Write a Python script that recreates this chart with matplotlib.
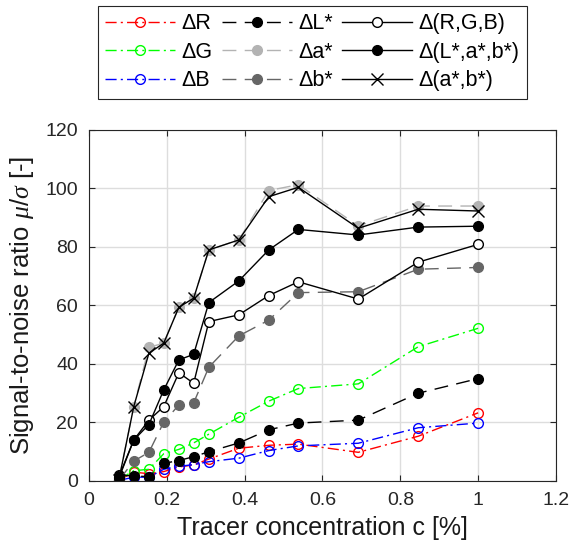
import matplotlib
matplotlib.use("Agg")
import matplotlib.pyplot as plt

plt.rcParams['font.family'] = ['Liberation Sans', 'DejaVu Sans']
plt.rcParams['mathtext.fontset'] = 'custom'
plt.rcParams['mathtext.it'] = 'Liberation Serif:italic'
plt.rcParams['mathtext.rm'] = 'Liberation Sans'

# tracer concentration [%]
conc = [0.077, 0.115, 0.154, 0.192, 0.231, 0.269, 0.308, 0.385, 0.462, 0.538, 0.692, 0.846, 1.0]

# signal-to-noise ratio for each colour channel / difference
snr_R = [0.3, 3.0, 2.5, 3.2, 4.8, 5.5, 7.5, 11.2, 12.2, 12.6, 9.8, 15.3, 23.3]
snr_G = [0.5, 3.5, 4.0, 9.3, 10.8, 13.0, 16.0, 21.8, 27.3, 31.6, 33.2, 45.9, 52.2]
snr_B = [0.2, 1.3, 1.3, 4.0, 5.0, 5.6, 6.6, 7.8, 10.4, 12.0, 12.9, 18.2, 19.8]
snr_L = [2.0, 1.7, 1.5, 6.0, 7.0, 8.3, 10.0, 13.0, 17.5, 19.8, 20.8, 30.0, 35.0]
snr_a = [0.5, 25.4, 45.7, 47.1, 59.4, 62.5, 79.0, 82.4, 99.3, 101.3, 87.2, 94.0, 94.0]
snr_b = [0.3, 6.8, 9.8, 20.1, 26.0, 26.7, 38.9, 49.6, 55.0, 64.4, 64.7, 72.4, 73.0]
snr_RGB = [1.0, 14.0, 20.8, 25.4, 37.0, 33.4, 54.5, 56.8, 63.4, 68.1, 62.2, 74.8, 80.9]
snr_Lab = [1.5, 14.0, 19.3, 31.1, 41.4, 43.3, 61.0, 68.4, 79.0, 86.0, 84.1, 86.8, 87.1]
snr_ab = [0.5, 25.4, 43.7, 47.1, 59.4, 62.5, 79.0, 82.4, 97.2, 100.4, 86.4, 92.9, 92.3]

xticks = [0, 0.2, 0.4, 0.6, 0.8, 1.0, 1.2]
xticklabels = ['0', '0.2', '0.4', '0.6', '0.8', '1', '1.2']
yticks = [0, 20, 40, 60, 80, 100, 120]

dashdot = (8, 3, 1.5, 3)
dashed = (10, 6)
ms = 7

fig = plt.figure(figsize=(5.73, 5.48), dpi=100)
ax = fig.add_axes([0.1553, 0.1223, 0.815, 0.6405])

ax.plot(conc, snr_R, color='r', dashes=dashdot, lw=1, marker='o', ms=ms, mfc='none', mew=1, label=u'\u0394R')
ax.plot(conc, snr_G, color=(0, 1, 0), dashes=dashdot, lw=1, marker='o', ms=ms, mfc='none', mew=1, label=u'\u0394G')
ax.plot(conc, snr_B, color='b', dashes=dashdot, lw=1, marker='o', ms=ms, mfc='none', mew=1, label=u'\u0394B')
ax.plot(conc, snr_L, color='k', dashes=dashed, lw=1, marker='o', ms=ms, label=u'\u0394L*')
ax.plot(conc, snr_a, color='0.7', dashes=dashed, lw=1, marker='o', ms=ms, label=u'\u0394a*')
ax.plot(conc, snr_b, color='0.4', dashes=dashed, lw=1, marker='o', ms=ms, label=u'\u0394b*')
ax.plot(conc, snr_RGB, color='k', ls='-', lw=1, marker='o', ms=ms, mfc='white', mew=1, label=u'\u0394(R,G,B)')
ax.plot(conc, snr_Lab, color='k', ls='-', lw=1, marker='o', ms=ms, label=u'\u0394(L*,a*,b*)')
ax.plot(conc, snr_ab, color='k', ls='-', lw=1, marker='x', ms=ms + 1, mew=1, label=u'\u0394(a*,b*)')

ax.set_xlim(0, 1.2)
ax.set_ylim(0, 120)
ax.set_xticks(xticks, xticklabels)
ax.set_yticks(yticks)
ax.tick_params(direction='in', top=True, right=True, length=4, width=0.8,
               labelsize=14, colors='#262626', pad=8)
ax.grid(True, color='#dddddd', lw=1)
ax.set_axisbelow(True)
for s in ax.spines.values():
    s.set_color('#262626')
    s.set_linewidth(0.8)

ax.set_xlabel('Tracer concentration c [%]', fontsize=18, color='#1a1a1a', labelpad=5)
ax.set_ylabel(r'Signal-to-noise ratio $\mu/\sigma$ [-]', fontsize=18.5, color='#1a1a1a', labelpad=7)

leg = ax.legend(ncol=3, loc='upper left', bbox_to_anchor=(98 / 573, 1 - 6 / 548),
                bbox_transform=fig.transFigure, borderaxespad=0, fontsize=15.5,
                handlelength=3.25, handletextpad=0.28, columnspacing=0.45,
                labelspacing=0.35, borderpad=0.34, numpoints=1, fancybox=False,
                framealpha=1)
leg.get_frame().set_edgecolor('#262626')
leg.get_frame().set_linewidth(0.8)

fig.savefig('out.png', dpi=100)
